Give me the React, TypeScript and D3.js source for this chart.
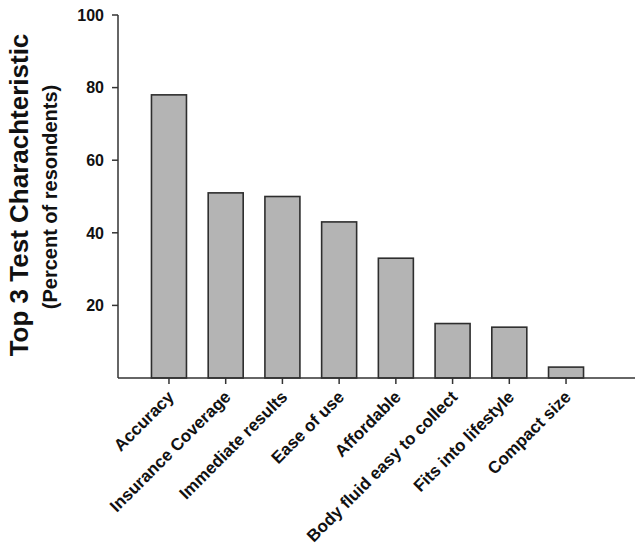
import React from "react";
import * as d3 from "d3";

const categories = [
  "Accuracy",
  "Insurance Coverage",
  "Immediate results",
  "Ease of use",
  "Affordable",
  "Body fluid easy to collect",
  "Fits into lifestyle",
  "Compact size",
];
const values = [78, 51, 50, 43, 33, 15, 14, 3];
const yTicks = [20, 40, 60, 80, 100];
const yTitle = "Top 3 Test Charachteristic";
const ySubtitle = "(Percent of resondents)";

const W = 640;
const H = 549;
const FONT = "'Liberation Sans', Arial, Helvetica, sans-serif";

export default function App() {
  const x = d3
    .scaleBand<string>()
    .domain(categories)
    .range([118, 617])
    .paddingInner(0.383)
    .paddingOuter(0.59);
  const y = d3.scaleLinear().domain([0, 100]).range([378, 15]);
  const axisColor = "#333";

  return (
    <svg
      width={W}
      height={H}
      style={{ position: "absolute", left: 0, top: 0, display: "block", background: "#fff" }}
      fontFamily={FONT}
    >
      {/* bars */}
      {categories.map((c, i) => (
        <rect
          key={c}
          x={x(c)!}
          y={y(values[i])}
          width={x.bandwidth()}
          height={y(0) - y(values[i])}
          fill="#b4b4b4"
          stroke="#2e2e2e"
          strokeWidth={1.6}
        />
      ))}
      {/* y axis */}
      <line x1={118} x2={118} y1={y(100)} y2={y(0)} stroke={axisColor} strokeWidth={1.5} />
      {yTicks.map((t) => (
        <g key={t}>
          <line x1={112} x2={118} y1={y(t)} y2={y(t)} stroke={axisColor} strokeWidth={1.5} />
          <text
            x={104}
            y={y(t)}
            dy="0.36em"
            textAnchor="end"
            fontSize={16}
            fontWeight="bold"
            fill="#111"
          >
            {t}
          </text>
        </g>
      ))}
      {/* x axis */}
      <line x1={118} x2={635} y1={y(0)} y2={y(0)} stroke={axisColor} strokeWidth={1.5} />
      {categories.map((c) => {
        const cx = x(c)! + x.bandwidth() / 2;
        return (
          <g key={c}>
            <line x1={cx} x2={cx} y1={y(0)} y2={y(0) + 6} stroke={axisColor} strokeWidth={1.5} />
            <text
              transform={`translate(${cx + 6},${398}) rotate(-45)`}
              textAnchor="end"
              fontSize={17}
              fontWeight="bold"
              fill="#111"
            >
              {c}
            </text>
          </g>
        );
      })}
      {/* y titles */}
      <text
        transform={`translate(28,195) rotate(-90)`}
        textAnchor="middle"
        fontSize={26}
        fontWeight="bold"
        fill="#111"
      >
        {yTitle}
      </text>
      <text
        transform={`translate(57,197) rotate(-90)`}
        textAnchor="middle"
        fontSize={20}
        fontWeight="bold"
        fill="#111"
      >
        {ySubtitle}
      </text>
    </svg>
  );
}
